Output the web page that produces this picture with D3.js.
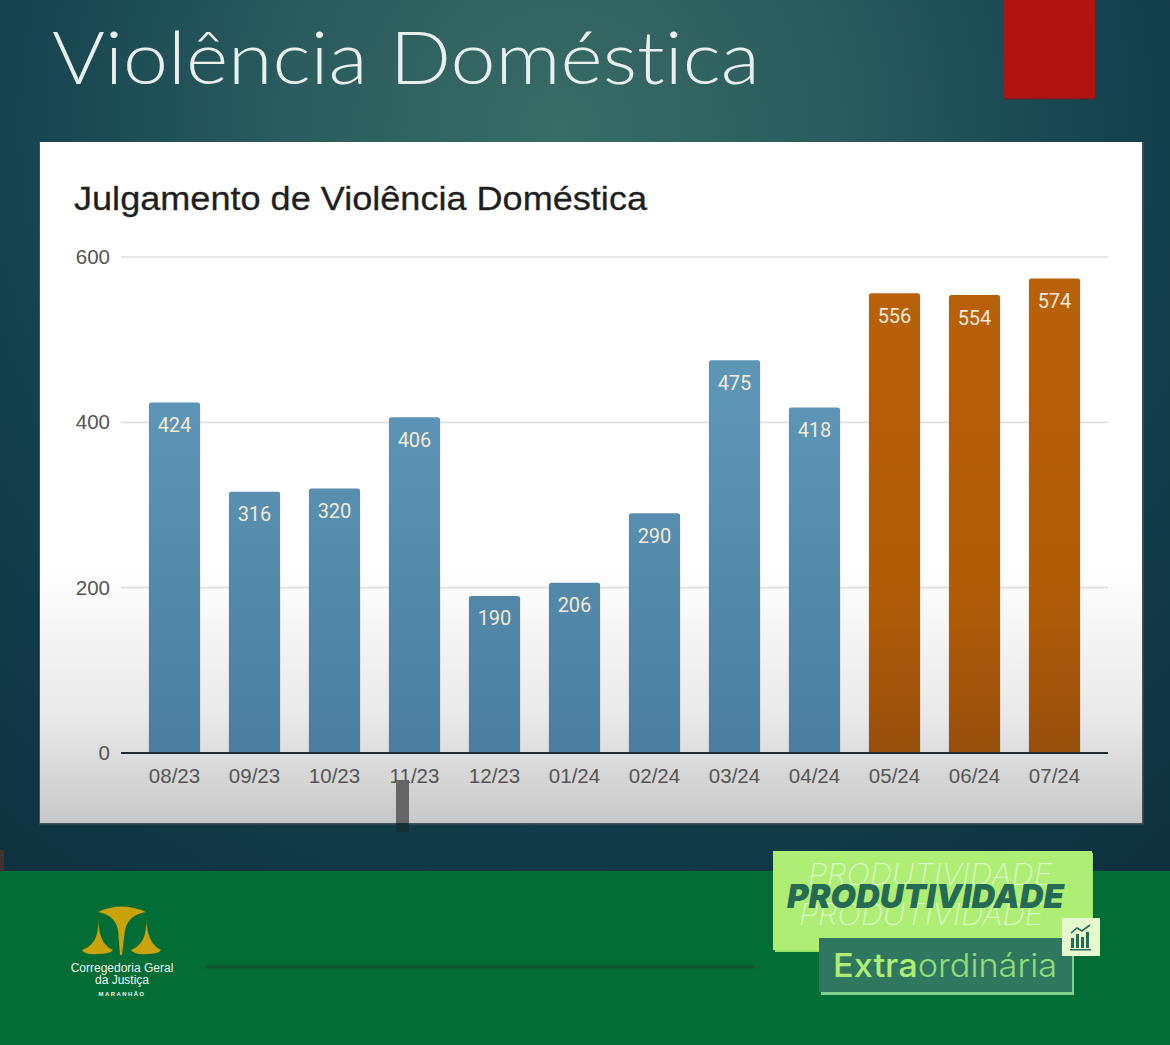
<!DOCTYPE html>
<html>
<head>
<meta charset="utf-8">
<script src="https://cdn.jsdelivr.net/npm/d3@7"></script>
<style>
  html, body { margin: 0; padding: 0; background: #0f2f40; overflow: hidden; }
  svg { display: block; }
  text { font-variant-ligatures: none; }
  .tick text { font-family: "Liberation Sans", sans-serif; font-size: 20.5px; fill: #555; }
</style>
</head>
<body>
<div id="chart"></div>
<script>
// Values
const months = ["08/23", "09/23", "10/23", "11/23", "12/23", "01/24", "02/24", "03/24", "04/24", "05/24", "06/24", "07/24"];
const judgements = [424, 316, 320, 406, 190, 206, 290, 475, 418, 556, 554, 574];
const highlighted = ["05/24", "06/24", "07/24"];
const yTicks = [0, 200, 400, 600];
const logoLines = ["Corregedoria Geral", "da Justiça"];

const width = 1170;
const height = 1045;

const svg = d3.select("#chart").append("svg")
    .attr("width", width)
    .attr("height", height);

const defs = svg.append("defs");

// Slide background
const bg = defs.append("radialGradient").attr("id", "bg")
    .attr("gradientUnits", "userSpaceOnUse")
    .attr("cx", 560).attr("cy", 130).attr("r", 1000);
bg.append("stop").attr("offset", 0).attr("stop-color", "#386c66");
bg.append("stop").attr("offset", 0.28).attr("stop-color", "#2a5b5e");
bg.append("stop").attr("offset", 0.56).attr("stop-color", "#14424f");
bg.append("stop").attr("offset", 1).attr("stop-color", "#0e2e3b");

// Panel goes grey towards the bottom
const panel = defs.append("linearGradient").attr("id", "panel")
    .attr("x1", 0).attr("x2", 0).attr("y1", 0).attr("y2", 1);
panel.append("stop").attr("offset", 0).attr("stop-color", "#ffffff");
panel.append("stop").attr("offset", 0.62).attr("stop-color", "#ffffff");
panel.append("stop").attr("offset", 0.85).attr("stop-color", "#e8e8e8");
panel.append("stop").attr("offset", 1).attr("stop-color", "#c8c8c8");

const blue = defs.append("linearGradient").attr("id", "blueBar")
    .attr("gradientUnits", "userSpaceOnUse")
    .attr("x1", 0).attr("x2", 0).attr("y1", 400).attr("y2", 752);
blue.append("stop").attr("offset", 0).attr("stop-color", "#5d95b6");
blue.append("stop").attr("offset", 1).attr("stop-color", "#4b7e9e");

const orange = defs.append("linearGradient").attr("id", "orangeBar")
    .attr("gradientUnits", "userSpaceOnUse")
    .attr("x1", 0).attr("x2", 0).attr("y1", 280).attr("y2", 752);
orange.append("stop").attr("offset", 0).attr("stop-color", "#b9600a");
orange.append("stop").attr("offset", 0.65).attr("stop-color", "#b25c08");
orange.append("stop").attr("offset", 1).attr("stop-color", "#98500c");

svg.append("rect").attr("width", width).attr("height", height).attr("fill", "url(#bg)");

// Red tab at the top, with its soft shadow
svg.append("rect")
    .attr("x", 1004).attr("y", -2).attr("width", 91).attr("height", 101.5)
    .attr("fill", "#6d2226");
svg.append("rect")
    .attr("x", 1004).attr("y", -2).attr("width", 91).attr("height", 100)
    .attr("fill", "#b01312");

// Slide title
svg.append("text")
    .attr("x", 52).attr("y", 84)
    .attr("font-family", "Lato, sans-serif")
    .attr("font-weight", 300)
    .attr("font-size", 72)
    .attr("fill", "#e8efed")
    .attr("textLength", 708)
    .attr("lengthAdjust", "spacingAndGlyphs")
    .text("Violência Doméstica");

// White chart panel
svg.append("rect")
    .attr("x", 39).attr("y", 142).attr("width", 1104.5).attr("height", 682.5)
    .attr("fill", "#44525a");
svg.append("rect")
    .attr("x", 40).attr("y", 142).attr("width", 1102).attr("height", 681)
    .attr("fill", "url(#panel)");

svg.append("text")
    .attr("x", 74).attr("y", 210)
    .attr("font-family", "Liberation Sans, sans-serif")
    .attr("font-size", 33)
    .attr("fill", "#1f1f1f")
    .attr("stroke", "#1f1f1f")
    .attr("stroke-width", 0.3)
    .attr("textLength", 573)
    .attr("lengthAdjust", "spacingAndGlyphs")
    .text("Julgamento de Violência Doméstica");

// Scales
const x = d3.scaleBand()
    .domain(months)
    .range([134.5, 1094.5])
    .paddingInner(0.36)
    .paddingOuter(0.18);

const y = d3.scaleLinear()
    .domain([0, 600])
    .range([753, 257]);

// Gridlines and value axis
const yAxis = svg.append("g")
    .attr("transform", "translate(121,0)")
    .call(d3.axisLeft(y).tickValues(yTicks).tickSize(0).tickPadding(11));
yAxis.select(".domain").remove();

svg.append("g")
  .selectAll("line")
  .data(yTicks.filter(d => d > 0))
  .join("line")
    .attr("x1", 121).attr("x2", 1108)
    .attr("y1", d => y(d)).attr("y2", d => y(d))
    .attr("stroke", "#dfdfdf")
    .attr("stroke-width", 1.6);

// Bars
const colourOf = d => highlighted.includes(d.month) ? "url(#orangeBar)" : "url(#blueBar)";
const rows = months.map((month, i) => ({month, value: judgements[i]}));

svg.append("g")
  .selectAll("path")
  .data(rows)
  .join("path")
    .attr("fill", colourOf)
    .attr("d", d => {
      const x0 = x(d.month), x1 = x0 + x.bandwidth(), top = y(d.value), r = 2.5;
      return `M${x0},${y(0)}V${top + r}Q${x0},${top} ${x0 + r},${top}H${x1 - r}Q${x1},${top} ${x1},${top + r}V${y(0)}Z`;
    });

// Value labels inside the bars
svg.append("g")
  .selectAll("text")
  .data(rows)
  .join("text")
    .attr("x", d => x(d.month) + x.bandwidth() / 2)
    .attr("y", d => y(d.value) + 29.5)
    .attr("text-anchor", "middle")
    .attr("font-family", "Roboto, sans-serif")
    .attr("font-size", 20)
    .attr("fill", "#f3ead9")
    .text(d => d.value);

// Category axis
const xAxis = svg.append("g")
    .attr("transform", `translate(0,${y(0)})`)
    .call(d3.axisBottom(x).tickSize(0).tickPadding(15));
xAxis.select(".domain").remove();

svg.append("line")
    .attr("x1", 121).attr("x2", 1108)
    .attr("y1", y(0)).attr("y2", y(0))
    .attr("stroke", "#1d2b33")
    .attr("stroke-width", 2);

// Grey marker over the 11/23 label
svg.append("rect")
    .attr("x", 396).attr("y", 780).attr("width", 13).attr("height", 43)
    .attr("fill", "#666");
svg.append("rect")
    .attr("x", 396).attr("y", 823).attr("width", 13).attr("height", 9)
    .attr("fill", "#132f38");

// Dark red blip on the left edge, above the footer
svg.append("rect")
    .attr("x", 0).attr("y", 850).attr("width", 4).attr("height", 21)
    .attr("fill", "#43302f");

// Green footer
svg.append("rect")
    .attr("x", 0).attr("y", 871).attr("width", width).attr("height", 174)
    .attr("fill", "#036d36");

svg.append("line")
    .attr("x1", 205).attr("x2", 755)
    .attr("y1", 967).attr("y2", 967)
    .attr("stroke", "#12542f")
    .attr("stroke-width", 3);

// Logo: golden scales
const logo = svg.append("g").attr("fill", "#c9a20c");
logo.append("path").attr("d", "M98,912Q121,901 146,912Q128,915 125,930L122,955L120,955L118,930Q115,915 98,912Z");
logo.append("path").attr("d", "M98,918C99,935 95,945 82,950Q84,955 98,954Q110,954 113,950C102,945 99,935 98,918Z");
logo.append("path").attr("d", "M146,918C147,935 143,945 131,950Q134,955 147,954Q159,954 161,950C151,945 147,935 146,918Z");

svg.append("g")
  .selectAll("text")
  .data(logoLines)
  .join("text")
    .attr("x", 122)
    .attr("y", (d, i) => 972 + i * 12)
    .attr("text-anchor", "middle")
    .attr("font-family", "Liberation Sans, sans-serif")
    .attr("font-size", 12)
    .attr("fill", "#f2f6f0")
    .text(d => d);

svg.append("text")
    .attr("x", 122).attr("y", 996)
    .attr("text-anchor", "middle")
    .attr("font-family", "Liberation Sans, sans-serif")
    .attr("font-weight", 700)
    .attr("font-size", 6)
    .attr("letter-spacing", 1.4)
    .attr("fill", "#f2f6f0")
    .text("MARANHÃO");

// Campaign badge
svg.append("rect").attr("x", 775).attr("y", 853).attr("width", 318).attr("height", 99).attr("fill", "#9ce36c");
svg.append("rect").attr("x", 773).attr("y", 851).attr("width", 319).attr("height", 99).attr("fill", "#aeee74");

const badgeFont = "Inter, sans-serif";
svg.append("text")
    .attr("x", 808).attr("y", 885)
    .attr("font-family", badgeFont).attr("font-style", "italic").attr("font-weight", 200)
    .attr("font-size", 30).attr("fill", "#dcf7c6")
    .attr("textLength", 244)
    .attr("lengthAdjust", "spacingAndGlyphs")
    .text("PRODUTIVIDADE");
svg.append("text")
    .attr("x", 799).attr("y", 925)
    .attr("font-family", badgeFont).attr("font-style", "italic").attr("font-weight", 200)
    .attr("font-size", 30).attr("fill", "#dcf7c6")
    .attr("textLength", 244)
    .attr("lengthAdjust", "spacingAndGlyphs")
    .text("PRODUTIVIDADE");
svg.append("text")
    .attr("x", 787).attr("y", 908)
    .attr("font-family", badgeFont).attr("font-style", "italic").attr("font-weight", 900)
    .attr("font-size", 33).attr("fill", "#256a55")
    .attr("textLength", 277)
    .attr("lengthAdjust", "spacingAndGlyphs")
    .text("PRODUTIVIDADE");

svg.append("rect").attr("x", 821).attr("y", 941).attr("width", 253).attr("height", 54).attr("fill", "#7ed08e");
svg.append("rect").attr("x", 819).attr("y", 938).attr("width", 253).attr("height", 54).attr("fill", "#2f785f");

const extra = svg.append("text")
    .attr("x", 833).attr("y", 977)
    .attr("font-family", "Inter, sans-serif")
    .attr("font-size", 33)
    .attr("textLength", 224)
    .attr("lengthAdjust", "spacingAndGlyphs");
extra.append("tspan").attr("font-weight", 500).attr("fill", "#aeee74").text("Extra");
extra.append("tspan").attr("font-weight", 300).attr("fill", "#92de78").text("ordinária");

// Small growth icon on the badge
svg.append("rect").attr("x", 1062).attr("y", 918).attr("width", 38).attr("height", 38).attr("fill", "#e6fbcd");
const icon = svg.append("g").attr("fill", "#256a55");
icon.append("rect").attr("x", 1071).attr("y", 938).attr("width", 3).attr("height", 10);
icon.append("rect").attr("x", 1076).attr("y", 934).attr("width", 3).attr("height", 14);
icon.append("rect").attr("x", 1081).attr("y", 937).attr("width", 3).attr("height", 11);
icon.append("rect").attr("x", 1086).attr("y", 932).attr("width", 3).attr("height", 16);
icon.append("rect").attr("x", 1070).attr("y", 949).attr("width", 21).attr("height", 1.5);
svg.append("path")
    .attr("d", "M1071,933L1077,928L1082,931L1090,925")
    .attr("fill", "none").attr("stroke", "#256a55").attr("stroke-width", 1.6);
</script>
</body>
</html>
